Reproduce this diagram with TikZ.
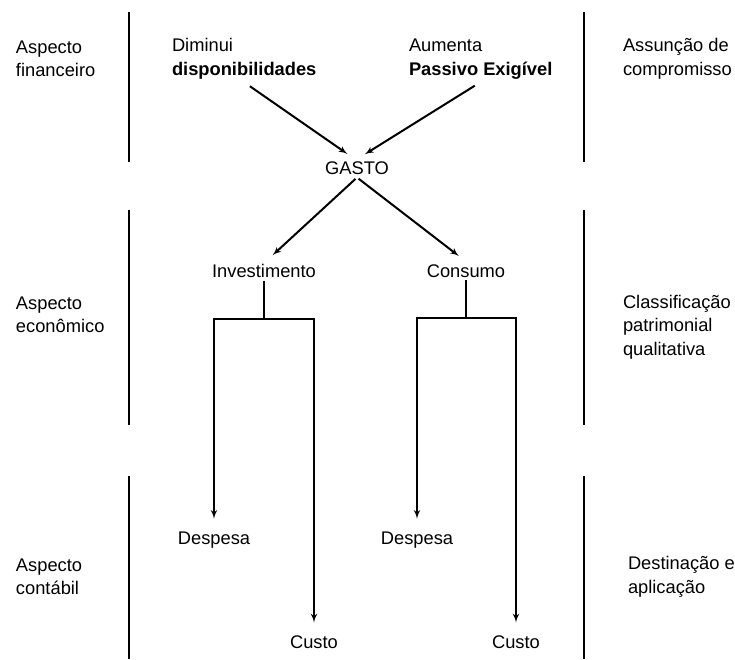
\documentclass[tikz,border=0pt]{standalone}
\usepackage{fontspec}
\setmainfont{Liberation Sans}
\usetikzlibrary{arrows,calc}
\newcommand{\tbf}[1]{\textbf{#1}}

\begin{document}
\begin{tikzpicture}[x=1pt, y=-1pt, >=latex', line width=2pt,
    every node/.style={font=\fontsize{18.3}{23.5}\selectfont, inner sep=2pt},
    lbl/.style={anchor=west, align=left}]
  \useasboundingbox (0,0) rectangle (735,659);

  % separators
  \foreach \xx in {129,584} {
    \draw (\xx,12) -- (\xx,162);
    \draw (\xx,210) -- (\xx,425);
    \draw (\xx,476) -- (\xx,659);
  }

  % side labels
  \node [lbl, name=finl] at (13,59) {Aspecto\\financeiro};
  \node [lbl, name=ecol] at (13,315) {Aspecto\\econômico};
  \node [lbl, name=cntl] at (13,577) {Aspecto\\contábil};
  \node [lbl, name=finr] at (620,59) {Assunção de\\compromisso};
  \node [lbl, name=ecor] at (620,327) {Classificação\\patrimonial\\qualitativa};
  \node [lbl, name=cntr] at (625,577) {Destinação e\\aplicação};

  % flow
  \node [lbl, name=dim] at (169,59) {Diminui\\\tbf{disponibilidades}};
  \node [lbl, name=aum] at (406,59) {Aumenta\\\tbf{Passivo Exigível}};
  \node [name=gasto] at (357,168) {GASTO};
  \node [name=inv] at (264,271) {Investimento};
  \node [name=cons] at (466,271) {Consumo};
  \node [name=desp1] at (214,540) {Despesa};
  \node [name=desp2] at (417,540) {Despesa};
  \node [name=cust1] at (314,642) {Custo};
  \node [name=cust2] at (516,642) {Custo};

  \draw [->, shorten <=7pt, shorten >=8pt] (dim.south) -- ([xshift=-3pt]gasto.north);
  \draw [->, shorten <=7pt, shorten >=8pt] (aum.south) -- ([xshift=1pt]gasto.north);
  \draw [->, shorten <=2pt, shorten >=9pt] (gasto.south) -- ([xshift=2pt]inv.north);
  \draw [->, shorten <=2pt, shorten >=9pt] (gasto.south) -- (cons.north);

  \draw (inv.south) -- ++(0,38) coordinate (invbar);
  \draw (cons.south) -- ++(0,38) coordinate (consbar);
  \draw [->, shorten >=10pt] (invbar) -| (desp1.north);
  \draw [->, shorten >=10pt] (invbar) -| (cust1.north);
  \draw [->, shorten >=10pt] (consbar) -| (desp2.north);
  \draw [->, shorten >=10pt] (consbar) -| (cust2.north);
\end{tikzpicture}
\end{document}
